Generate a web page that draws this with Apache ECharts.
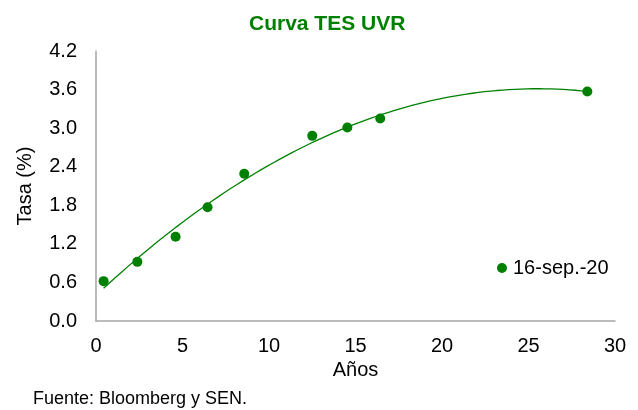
<!DOCTYPE html>
<html>
<head>
<meta charset="utf-8">
<script src="https://cdn.jsdelivr.net/npm/echarts@6/dist/echarts.min.js"></script>
<style>
html, body { margin: 0; padding: 0; background: #fff; }
#chart { width: 638px; height: 410px; }
</style>
</head>
<body>
<div id="chart"></div>
<script>
// plazo en años y tasa (%)
const anios = [0.44, 2.39, 4.6, 6.45, 8.57, 12.5, 14.53, 16.43, 28.4];
const tasas = [0.62, 0.92, 1.31, 1.77, 2.29, 2.88, 3.01, 3.15, 3.57];
const yTicks = [0, 0.6, 1.2, 1.8, 2.4, 3.0, 3.6, 4.2];
const serieNombre = '16-sep.-20';

// tendencia polinómica de grado 2 (mínimos cuadrados) sobre los datos
function polyFit2(xs, ys) {
	let s = [0, 0, 0, 0, 0], t = [0, 0, 0];
	for (let i = 0; i < xs.length; i++) {
		let p = 1;
		for (let k = 0; k < 5; k++) { s[k] += p; if (k < 3) t[k] += p * ys[i]; p *= xs[i]; }
	}
	const m = [[s[0], s[1], s[2], t[0]], [s[1], s[2], s[3], t[1]], [s[2], s[3], s[4], t[2]]];
	for (let c = 0; c < 3; c++) {
		for (let r = c + 1; r < 3; r++) {
			const f = m[r][c] / m[c][c];
			for (let k = c; k < 4; k++) m[r][k] -= f * m[c][k];
		}
	}
	const b = [0, 0, 0];
	for (let r = 2; r >= 0; r--) {
		let v = m[r][3];
		for (let k = r + 1; k < 3; k++) v -= m[r][k] * b[k];
		b[r] = v / m[r][r];
	}
	return b;
}
const coef = polyFit2(anios, tasas);
const xMin = Math.min(...anios), xMax = Math.max(...anios);
const tendencia = [];
for (let i = 0; i <= 80; i++) {
	const x = xMin + (xMax - xMin) * i / 80;
	tendencia.push([x, coef[0] + coef[1] * x + coef[2] * x * x]);
}

const verde = '#008000';
const font = 'Liberation Sans, Arial, sans-serif';
const chart = echarts.init(document.getElementById('chart'));
chart.setOption({
	animation: false,
	title: {
		text: 'Curva TES UVR',
		left: 244,
		top: 9,
		textStyle: { color: verde, fontSize: 21, fontWeight: 'bold', fontFamily: font }
	},
	graphic: [{
		type: 'text',
		left: 33,
		top: 390,
		style: { text: 'Fuente: Bloomberg y SEN.', fill: '#000', font: '18px ' + font }
	}],
	legend: {
		data: [serieNombre],
		left: 492,
		top: 253,
		icon: 'circle',
		itemWidth: 10,
		itemHeight: 10,
		itemGap: 4,
		textStyle: { color: '#000', fontSize: 20, fontFamily: font, padding: [0, 0, 0, 1] }
	},
	grid: { left: 96, right: 23, top: 51, bottom: 89 },
	xAxis: {
		type: 'value',
		min: 0, max: 30, interval: 5,
		name: 'Años',
		nameLocation: 'middle',
		nameGap: 38,
		nameTextStyle: { color: '#000', fontSize: 20, fontFamily: font },
		axisLine: { show: true, lineStyle: { color: '#a6a6a6', width: 1.5 } },
		axisTick: { show: false },
		splitLine: { show: false },
		axisLabel: { color: '#000', fontSize: 20, fontFamily: font, margin: 15 }
	},
	yAxis: {
		type: 'value',
		min: 0, max: 4.2, interval: 0.6,
		name: 'Tasa (%)',
		nameLocation: 'middle',
		nameGap: 61,
		nameTextStyle: { color: '#000', fontSize: 20, fontFamily: font },
		axisLine: { show: true, lineStyle: { color: '#a6a6a6', width: 1.5 } },
		axisTick: { show: false },
		splitLine: { show: false },
		axisLabel: {
			color: '#000', fontSize: 20, fontFamily: font, margin: 19,
			formatter: v => yTicks.includes(Math.round(v * 10) / 10) ? v.toFixed(1) : ''
		}
	},
	series: [
		{
			name: 'tendencia',
			type: 'line',
			data: tendencia,
			showSymbol: false,
			smooth: false,
			lineStyle: { color: verde, width: 1.3 },
			silent: true,
			z: 1
		},
		{
			name: serieNombre,
			type: 'scatter',
			data: anios.map((x, i) => [x, tasas[i]]),
			symbolSize: 10,
			itemStyle: { color: verde, opacity: 1 },
			z: 2
		}
	]
});
</script>
</body>
</html>
